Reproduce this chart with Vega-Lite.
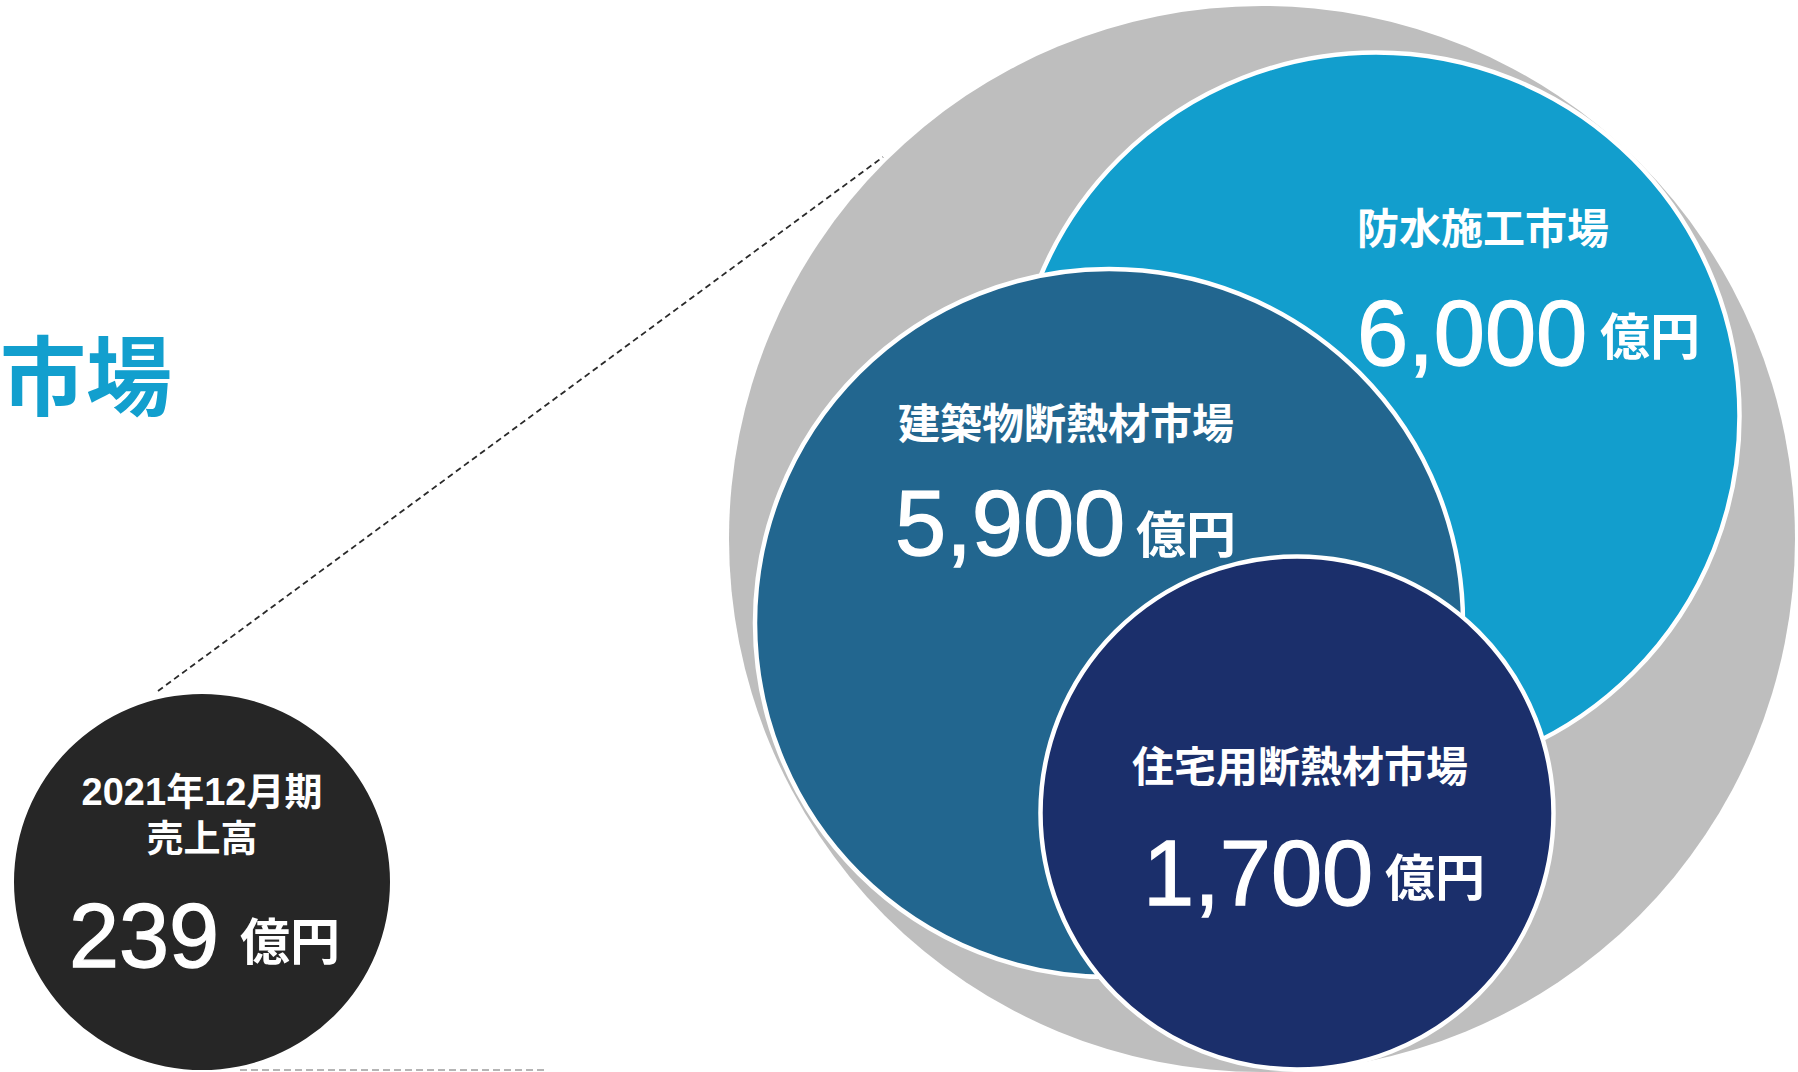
{
  "$schema": "https://vega.github.io/schema/vega-lite/v6.json",
  "width": 1798,
  "height": 1072,
  "padding": 0,
  "autosize": {"type": "none"},
  "background": "white",
  "config": {"view": {"stroke": null}},
  "datasets": {
    "circles": [
      {"name": "全体", "group": "base", "x": 1262, "y": 539, "d": 1066, "z": 1},
      {"name": "売上高", "group": "base", "x": 202, "y": 882, "d": 376, "z": 2},
      {"name": "防水施工市場", "group": "market", "x": 1376, "y": 416, "d": 727, "z": 3, "value": 6000},
      {"name": "建築物断熱材市場", "group": "market", "x": 1109, "y": 623, "d": 708, "z": 4, "value": 5900},
      {"name": "住宅用断熱材市場", "group": "market", "x": 1297, "y": 813, "d": 513, "z": 5, "value": 1700}
    ],
    "lines": [
      {"kind": "connector", "x": 158, "y": 691, "x2": 883, "y2": 157},
      {"kind": "bottom", "x": 240, "y": 1070, "x2": 547, "y2": 1070}
    ],
    "texts": [
      {"role": "title", "text": "市場", "x": 0, "y": 409},
      {"role": "label", "text": "防水施工市場", "x": 1483, "y": 244},
      {"role": "label", "text": "建築物断熱材市場", "x": 1066, "y": 439},
      {"role": "label", "text": "住宅用断熱材市場", "x": 1300, "y": 782},
      {"role": "period", "text": "2021年12月期", "x": 202, "y": 805},
      {"role": "sales", "text": "売上高", "x": 202, "y": 852},
      {"role": "number", "text": "6,000", "x": 1357, "y": 365},
      {"role": "number", "text": "5,900", "x": 895, "y": 555},
      {"role": "number", "text": "1,700", "x": 1143, "y": 905},
      {"role": "number2", "text": "239", "x": 69, "y": 967},
      {"role": "unit", "text": "億円", "x": 1600, "y": 355},
      {"role": "unit", "text": "億円", "x": 1136, "y": 553},
      {"role": "unit", "text": "億円", "x": 1385, "y": 896},
      {"role": "unit", "text": "億円", "x": 240, "y": 960}
    ]
  },
  "layer": [
    {
      "data": {"name": "lines"},
      "transform": [{"filter": "datum.kind === 'connector'"}],
      "mark": {"type": "rule", "color": "#2a2a2a", "strokeWidth": 1.8, "strokeDash": [6, 4]},
      "encoding": {
        "x": {"field": "x", "type": "quantitative", "scale": {"domain": [0, 1798], "nice": false, "zero": false}, "axis": null},
        "y": {"field": "y", "type": "quantitative", "scale": {"domain": [0, 1072], "reverse": true, "nice": false, "zero": false}, "axis": null},
        "x2": {"field": "x2"},
        "y2": {"field": "y2"}
      }
    },
    {
      "data": {"name": "lines"},
      "transform": [{"filter": "datum.kind === 'bottom'"}],
      "mark": {"type": "rule", "color": "#b5b5b5", "strokeWidth": 2, "strokeDash": [7, 4]},
      "encoding": {
        "x": {"field": "x", "type": "quantitative", "axis": null},
        "y": {"field": "y", "type": "quantitative", "axis": null},
        "x2": {"field": "x2"},
        "y2": {"field": "y2"}
      }
    },
    {
      "data": {"name": "circles"},
      "transform": [{"filter": "datum.group === 'base'"}],
      "mark": {"type": "circle", "opacity": 1},
      "encoding": {
        "x": {"field": "x", "type": "quantitative", "axis": null},
        "y": {"field": "y", "type": "quantitative", "axis": null},
        "size": {"field": "d", "type": "quantitative", "scale": {"type": "pow", "exponent": 2, "domain": [0, 1000], "range": [0, 1000000]}, "legend": null},
        "color": {"field": "name", "type": "nominal", "scale": {"domain": ["全体", "売上高", "防水施工市場", "建築物断熱材市場", "住宅用断熱材市場"], "range": ["#bebebe", "#262626", "#129ecd", "#22668f", "#1b2f6b"]}, "legend": null},
        "order": {"field": "z", "type": "quantitative"}
      }
    },
    {
      "data": {"name": "circles"},
      "transform": [{"filter": "datum.group === 'market'"}],
      "mark": {"type": "circle", "opacity": 1, "stroke": "white", "strokeWidth": 4.5},
      "encoding": {
        "x": {"field": "x", "type": "quantitative", "axis": null},
        "y": {"field": "y", "type": "quantitative", "axis": null},
        "size": {"field": "d", "type": "quantitative", "legend": null},
        "color": {"field": "name", "type": "nominal", "legend": null},
        "order": {"field": "z", "type": "quantitative"}
      }
    },
    {
      "data": {"name": "texts"},
      "transform": [{"filter": "datum.role === 'title'"}],
      "mark": {"type": "text", "align": "left", "baseline": "alphabetic", "font": "Noto Sans CJK JP", "fontWeight": "bold", "fontSize": 86, "color": "#129fce"},
      "encoding": {
        "x": {"field": "x", "type": "quantitative", "axis": null},
        "y": {"field": "y", "type": "quantitative", "axis": null},
        "text": {"field": "text"}
      }
    },
    {
      "data": {"name": "texts"},
      "transform": [{"filter": "datum.role === 'label'"}],
      "mark": {"type": "text", "align": "center", "baseline": "alphabetic", "font": "Noto Sans CJK JP", "fontWeight": "bold", "fontSize": 42, "color": "white"},
      "encoding": {
        "x": {"field": "x", "type": "quantitative", "axis": null},
        "y": {"field": "y", "type": "quantitative", "axis": null},
        "text": {"field": "text"}
      }
    },
    {
      "data": {"name": "texts"},
      "transform": [{"filter": "datum.role === 'period'"}],
      "mark": {"type": "text", "align": "center", "baseline": "alphabetic", "font": "Liberation Sans, Noto Sans CJK JP", "fontWeight": "bold", "fontSize": 38, "color": "white"},
      "encoding": {
        "x": {"field": "x", "type": "quantitative", "axis": null},
        "y": {"field": "y", "type": "quantitative", "axis": null},
        "text": {"field": "text"}
      }
    },
    {
      "data": {"name": "texts"},
      "transform": [{"filter": "datum.role === 'sales'"}],
      "mark": {"type": "text", "align": "center", "baseline": "alphabetic", "font": "Noto Sans CJK JP", "fontWeight": "bold", "fontSize": 37, "color": "white"},
      "encoding": {
        "x": {"field": "x", "type": "quantitative", "axis": null},
        "y": {"field": "y", "type": "quantitative", "axis": null},
        "text": {"field": "text"}
      }
    },
    {
      "data": {"name": "texts"},
      "transform": [{"filter": "datum.role === 'number'"}],
      "mark": {"type": "text", "align": "left", "baseline": "alphabetic", "font": "Liberation Sans", "fontSize": 92, "color": "white", "stroke": "white", "strokeWidth": 1.3},
      "encoding": {
        "x": {"field": "x", "type": "quantitative", "axis": null},
        "y": {"field": "y", "type": "quantitative", "axis": null},
        "text": {"field": "text"}
      }
    },
    {
      "data": {"name": "texts"},
      "transform": [{"filter": "datum.role === 'number2'"}],
      "mark": {"type": "text", "align": "left", "baseline": "alphabetic", "font": "Liberation Sans", "fontSize": 90, "color": "white", "stroke": "white", "strokeWidth": 1.3},
      "encoding": {
        "x": {"field": "x", "type": "quantitative", "axis": null},
        "y": {"field": "y", "type": "quantitative", "axis": null},
        "text": {"field": "text"}
      }
    },
    {
      "data": {"name": "texts"},
      "transform": [{"filter": "datum.role === 'unit'"}],
      "mark": {"type": "text", "align": "left", "baseline": "alphabetic", "font": "Noto Sans CJK JP", "fontWeight": "bold", "fontSize": 50, "color": "white"},
      "encoding": {
        "x": {"field": "x", "type": "quantitative", "axis": null},
        "y": {"field": "y", "type": "quantitative", "axis": null},
        "text": {"field": "text"}
      }
    }
  ]
}
